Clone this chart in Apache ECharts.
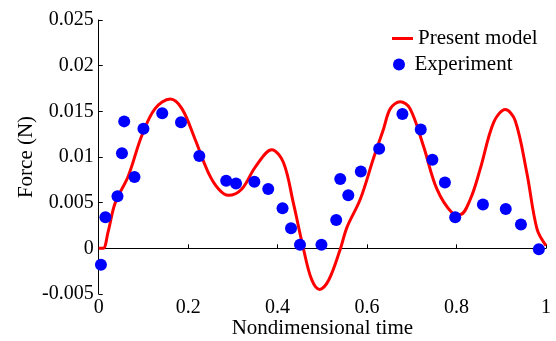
<!DOCTYPE html>
<html>
<head>
<meta charset="utf-8">
<script src="https://cdn.jsdelivr.net/npm/echarts@6/dist/echarts.min.js"></script>
<style>html,body{margin:0;padding:0;background:#fff}#c{width:556px;height:341px}</style>
</head>
<body>
<div id="c"></div>
<script>
var modelT = [0, 0.01, 0.021, 0.037, 0.066, 0.096, 0.126, 0.16, 0.186, 0.215, 0.245, 0.268, 0.29, 0.32, 0.35, 0.387, 0.413, 0.435, 0.458, 0.476, 0.494, 0.514, 0.54, 0.555, 0.585, 0.614, 0.637, 0.652, 0.674, 0.696, 0.726, 0.756, 0.79, 0.808, 0.831, 0.853, 0.883, 0.909, 0.931, 0.957, 0.98, 1.0];
var modelF = [0, 0.0, 0.0018, 0.005, 0.0079, 0.0123, 0.0153, 0.01635, 0.0153, 0.012, 0.0083, 0.0065, 0.0058, 0.0065, 0.0089, 0.0108, 0.0094, 0.005, -0.0001, -0.0034, -0.0045, -0.0035, -0.0001, 0.0023, 0.0054, 0.0098, 0.0131, 0.0153, 0.01605, 0.0153, 0.0112, 0.0065, 0.0039, 0.0037, 0.0054, 0.0087, 0.0138, 0.0152, 0.014, 0.0083, 0.0021, 0.0003];
var expT = [0.005, 0.015, 0.042, 0.080, 0.052, 0.057, 0.100, 0.142, 0.184, 0.225, 0.285, 0.307, 0.348, 0.379, 0.411, 0.430, 0.450, 0.498, 0.531, 0.540, 0.558, 0.586, 0.627, 0.679, 0.720, 0.746, 0.774, 0.797, 0.859, 0.910, 0.944, 0.984];
var expF = [-0.0018, 0.0034, 0.0057, 0.0078, 0.0104, 0.0139, 0.0131, 0.0148, 0.0138, 0.0101, 0.0074, 0.0071, 0.0073, 0.0065, 0.0044, 0.0022, 0.0004, 0.0004, 0.0031, 0.0076, 0.0058, 0.0084, 0.0109, 0.0147, 0.0130, 0.0097, 0.0072, 0.0034, 0.0048, 0.0043, 0.0026, -0.0001];
var xTickLabels = ['0', '0.2', '0.4', '0.6', '0.8', '1'];
var yTickLabels = ['-0.005', '0', '0.005', '0.01', '0.015', '0.02', '0.025'];
var seriesNames = ['Present model', 'Experiment'];

var font = 'Liberation Serif';
var fs = 21;
var tfs = 20;
var chart = echarts.init(document.getElementById('c'));
chart.setOption({
  animation: false,
  textStyle: {fontFamily: font},
  grid: {left: 98.7, right: 10, top: 20, bottom: 47, containLabel: false, outerBoundsMode: 'none'},
  legend: [
    {
      orient: 'vertical', left: 392, top: 28, padding: 0, itemWidth: 21, itemHeight: 3,
      textStyle: {fontFamily: font, fontSize: fs, color: '#000'},
      data: [{name: seriesNames[0], icon: 'rect'}]
    },
    {
      orient: 'vertical', left: 393, top: 54, padding: 0, itemWidth: 21, itemHeight: 12,
      textStyle: {fontFamily: font, fontSize: fs, color: '#000'},
      data: [{name: seriesNames[1], icon: 'circle'}]
    }
  ],
  xAxis: {
    type: 'value', min: 0, max: 1, interval: 0.2,
    name: 'Nondimensional time', nameLocation: 'middle', nameGap: 24, nameMoveOverlap: false,
    nameTextStyle: {fontFamily: font, fontSize: fs, color: '#000'},
    axisLine: {lineStyle: {color: '#000', width: 1}},
    axisTick: {inside: true, length: 4, lineStyle: {color: '#000'}},
    axisLabel: {fontFamily: font, fontSize: tfs, color: '#000', margin: 4,
      formatter: function (v) { return xTickLabels[Math.round(v / 0.2)]; }},
    splitLine: {show: false}
  },
  yAxis: {
    type: 'value', min: -0.005, max: 0.025, interval: 0.005,
    name: 'Force (N)', nameLocation: 'middle', nameGap: 62, nameMoveOverlap: false,
    nameTextStyle: {fontFamily: font, fontSize: fs, color: '#000'},
    axisLine: {show: true, lineStyle: {color: '#000', width: 1}},
    axisTick: {show: true, inside: true, length: 4, lineStyle: {color: '#000'}},
    axisLabel: {fontFamily: font, fontSize: tfs, color: '#000', margin: 5,
      formatter: function (v) { return yTickLabels[Math.round((v + 0.005) / 0.005)]; }},
    splitLine: {show: false}
  },
  series: [
    {
      name: seriesNames[0], type: 'line', smooth: 0.35, symbol: 'none',
      lineStyle: {color: '#ff0000', width: 3}, itemStyle: {color: '#ff0000'},
      data: modelT.map(function (t, i) { return [t, modelF[i]]; }), z: 2
    },
    {
      name: seriesNames[1], type: 'scatter', symbol: 'circle', symbolSize: 12,
      itemStyle: {color: '#0000ff', opacity: 1},
      data: expT.map(function (t, i) { return [t, expF[i]]; }), z: 3
    }
  ]
});
</script>
</body>
</html>
